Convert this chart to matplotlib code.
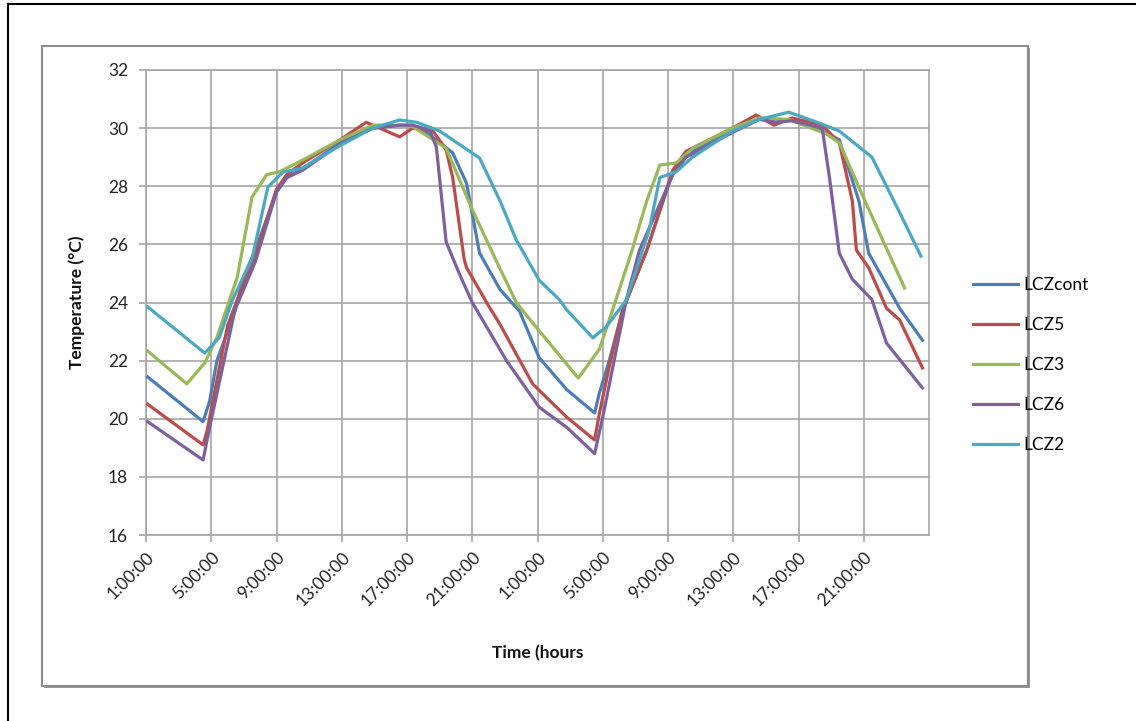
import matplotlib
matplotlib.use("Agg")
import matplotlib.pyplot as plt
from matplotlib.lines import Line2D
from matplotlib.patches import Rectangle

# ---------------- data (hours since start; 1 = 1:00:00 of day 1) ----------------
hours_cont = [1.1, 4.5, 4.9, 5.35, 6.45, 7.0, 7.7, 9.0, 9.63, 10.6, 12.9, 14.9, 16.55, 17.35,
              18.2, 19.8, 20.65, 21.45, 22.7, 23.9, 25.1, 26.8, 28.5, 28.8, 29.4, 30.2, 31.7,
              33.3, 34.1, 36.95, 38.6, 39.6, 40.6, 42.1, 43.5, 44.7, 45.3, 47.2, 48.6]
temp_cont = [21.44, 19.9, 20.6, 22.0, 23.7, 24.9, 25.8, 27.8, 28.3, 28.6, 29.5, 30.0, 30.1, 30.1,
             29.85, 29.15, 28.1, 25.7, 24.45, 23.7, 22.1, 21.0, 20.2, 20.9, 22.0, 23.7, 25.8,
             28.5, 29.1, 29.9, 30.35, 30.2, 30.3, 30.0, 29.6, 27.5, 25.7, 23.8, 22.7]

hours_lcz5 = [1.1, 4.5, 4.75, 6.0, 6.6, 7.8, 9.0, 9.63, 10.6, 12.9, 14.5, 16.55, 17.35, 18.6,
              19.4, 19.8, 20.5, 20.65, 22.05, 22.7, 24.7, 26.8, 28.5, 28.8, 29.4, 30.2, 31.7,
              33.3, 34.1, 36.95, 38.4, 39.5, 40.6, 42.45, 43.5, 44.3, 44.55, 45.3, 46.4, 47.2, 48.6]
temp_lcz5 = [20.5, 19.1, 19.6, 23.2, 24.1, 25.8, 27.9, 28.4, 28.8, 29.6, 30.2, 29.7, 30.0, 29.9,
             29.25, 28.3, 25.5, 25.2, 23.84, 23.25, 21.2, 20.05, 19.27, 20.2, 21.8, 23.7, 25.8,
             28.56, 29.2, 30.0, 30.45, 30.1, 30.35, 30.1, 29.5, 27.5, 25.8, 25.2, 23.8, 23.4, 21.75]

hours_lcz3 = [1.1, 3.5, 4.6, 5.35, 6.6, 7.5, 8.4, 9.2, 10.6, 12.9, 14.9, 16.55, 17.35, 18.6,
              19.4, 21.0, 22.5, 23.7, 24.7, 27.5, 28.8, 29.6, 30.8, 31.7, 32.5, 33.5, 34.5,
              36.95, 38.6, 40.4, 42.7, 43.5, 45.15, 47.5]
temp_lcz3 = [22.33, 21.2, 21.92, 22.8, 24.88, 27.63, 28.4, 28.5, 28.9, 29.6, 30.1, 30.1, 30.05, 29.6,
             29.3, 27.2, 25.4, 24.0, 23.3, 21.4, 22.4, 23.74, 25.8, 27.5, 28.73, 28.8, 29.3,
             30.0, 30.35, 30.3, 29.8, 29.5, 27.4, 24.5]

hours_lcz6 = [1.1, 4.5, 4.9, 6.45, 7.7, 9.0, 9.63, 10.6, 12.9, 14.9, 16.55, 17.35, 18.4, 18.8,
              19.4, 20.2, 21.0, 23.1, 25.1, 26.8, 28.5, 29.0, 30.45, 31.25, 33.3, 34.1, 36.95,
              38.6, 39.6, 40.6, 42.45, 42.9, 43.5, 44.3, 45.5, 46.4, 48.6]
temp_lcz6 = [19.9, 18.58, 19.7, 23.74, 25.4, 27.8, 28.3, 28.55, 29.45, 30.0, 30.1, 30.1, 29.93, 29.35,
             26.08, 25.0, 24.0, 22.0, 20.4, 19.7, 18.8, 20.06, 24.1, 25.8, 28.4, 29.0, 29.85,
             30.3, 30.2, 30.25, 30.0, 28.3, 25.7, 24.8, 24.1, 22.6, 21.06]

hours_lcz2 = [1.1, 4.6, 5.5, 6.3, 7.5, 8.47, 9.4, 10.6, 12.9, 14.9, 16.55, 17.6, 19.0, 21.45,
              22.7, 23.7, 25.1, 26.35, 26.8, 28.4, 28.8, 29.2, 30.45, 31.85, 32.5, 33.5, 34.5,
              36.95, 38.6, 40.4, 42.3, 43.5, 45.5, 47.2, 48.5]
temp_lcz2 = [23.85, 22.26, 22.8, 24.09, 25.5, 27.97, 28.49, 28.63, 29.4, 30.0, 30.28, 30.2, 29.9, 28.97,
             27.5, 26.15, 24.77, 24.09, 23.74, 22.78, 22.98, 23.15, 24.09, 26.5, 28.3, 28.5, 29.0,
             29.9, 30.3, 30.55, 30.17, 29.9, 29.0, 27.1, 25.6]

series_names = ["LCZcont", "LCZ5", "LCZ3", "LCZ6", "LCZ2"]
tick_hours = [1, 5, 9, 13, 17, 21, 25, 29, 33, 37, 41, 45]
tick_labels = ["1:00:00", "5:00:00", "9:00:00", "13:00:00", "17:00:00", "21:00:00",
               "1:00:00", "5:00:00", "9:00:00", "13:00:00", "17:00:00", "21:00:00"]
y_ticks = [16, 18, 20, 22, 24, 26, 28, 30, 32]

colors = ["#4A7EBB", "#BE4B48", "#98B954", "#7D60A0", "#46AAC5"]

# ---------------- figure ----------------
W, H = 1136, 721
fig = plt.figure(figsize=(W / 100, H / 100), dpi=100)
plt.rcParams['font.family'] = ['Lato', 'DejaVu Sans']


def fx(px):
    return px / W


def fy(py):
    return 1 - py / H


# outer page lines (black)
fig.add_artist(Line2D([fx(8), 1.0], [fy(4), fy(4)], color='black', lw=1.5))
fig.add_artist(Line2D([fx(8), fx(8)], [fy(4), 0.0], color='black', lw=1.5))

# chart area box with shadow
fig.add_artist(Rectangle((fx(44), fy(688)), fx(986), (688 - 48) / H, facecolor='#9a9a9a',
                         edgecolor='none', zorder=0))
fig.add_artist(Rectangle((fx(42), fy(686)), fx(986), (686 - 46) / H, facecolor='white',
                         edgecolor='#8c8c8c', lw=1.5, zorder=1))

ax = fig.add_axes([fx(146), fy(535), fx(929 - 146), (535 - 70) / H])
ax.set_zorder(2)

all_hours = [hours_cont, hours_lcz5, hours_lcz3, hours_lcz6, hours_lcz2]
all_temps = [temp_cont, temp_lcz5, temp_lcz3, temp_lcz6, temp_lcz2]
for hh, tt, c, n in zip(all_hours, all_temps, colors, series_names):
    ax.plot(hh, tt, color=c, lw=2.3, label=n, solid_joinstyle='round', zorder=3)

ax.set_xlim(1, 49)
ax.set_ylim(16, 32)
ax.set_yticks(y_ticks)
ax.set_xticks(tick_hours)
ax.set_xticklabels(tick_labels, rotation=45, ha='right', va='top', rotation_mode='anchor')

grid_c = '#a6a6a6'
ax.grid(True, color=grid_c, lw=1.2, zorder=0)
for s in ax.spines.values():
    s.set_color(grid_c)
    s.set_linewidth(1.2)
ax.tick_params(axis='both', colors=grid_c, length=5, width=1.2, labelcolor='#222222',
               labelsize=12.5)
ax.tick_params(axis='y', pad=8)
ax.tick_params(axis='x', pad=5)

ax.set_ylabel("Temperature (°C)", fontsize=12.5, fontweight='bold', color='#111111')
ax.yaxis.set_label_coords(-0.078, 0.5)
ax.set_xlabel("Time (hours", fontsize=12.5, fontweight='bold', color='#111111')
ax.xaxis.set_label_coords(0.5, -0.237)

leg = ax.legend(loc='center left',
                bbox_to_anchor=((966 - 146) / (929 - 146), (535 - 365) / (535 - 70)),
                frameon=False, fontsize=12.5, handlelength=2.6, handletextpad=0.3,
                labelspacing=1.38, borderaxespad=0)

fig.savefig("out.png", dpi=100)
